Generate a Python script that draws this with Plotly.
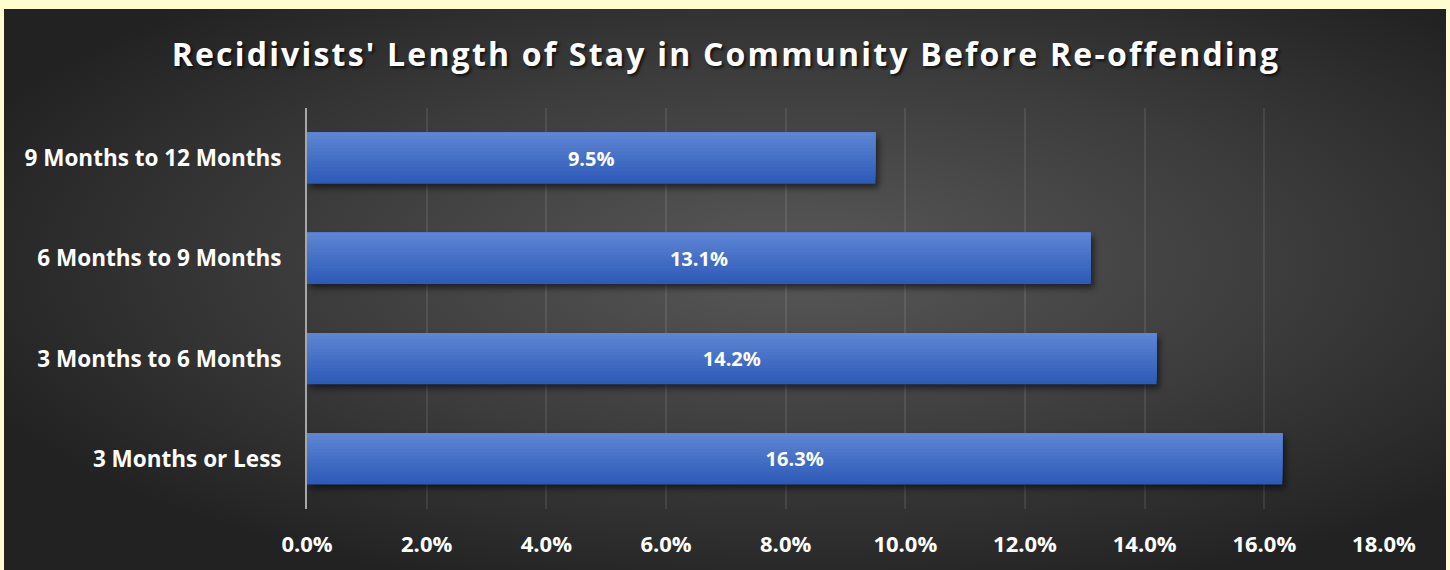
import base64
import plotly.graph_objects as go

categories = ["3 Months or Less", "3 Months to 6 Months", "6 Months to 9 Months", "9 Months to 12 Months"]
values = [16.3, 14.2, 13.1, 9.5]
value_labels = ["16.3%", "14.2%", "13.1%", "9.5%"]
x_ticks = [0, 2, 4, 6, 8, 10, 12, 14, 16, 18]
x_tick_labels = ["0.0%", "2.0%", "4.0%", "6.0%", "8.0%", "10.0%", "12.0%", "14.0%", "16.0%", "18.0%"]
title_text = "Recidivists' Length of Stay in Community Before Re-offending"

W, H = 1450, 570
L, R, T, B = 307, 66, 108, 61
pw, ph = W - L - R, H - T - B
FONT = "Open Sans"

svg = (
    '<svg xmlns="http://www.w3.org/2000/svg" width="1442" height="561" viewBox="0 0 1442 561" preserveAspectRatio="none">'
    '<defs><radialGradient id="g" cx="0.55" cy="0.45" r="0.62">'
    '<stop offset="0" stop-color="#585858"/><stop offset="0.55" stop-color="#3c3c3c"/>'
    '<stop offset="1" stop-color="#222222"/></radialGradient></defs>'
    '<rect width="1442" height="561" fill="url(#g)"/></svg>'
)
bg_src = "data:image/svg+xml;base64," + base64.b64encode(svg.encode()).decode()

# vertical gradient on bars: nested overlay bars, each starting higher and lighter
BAR_W = 0.51
N = 16
top_rgb = (0x5e, 0x84, 0xd3)
bot_rgb = (0x2d, 0x5b, 0xb8)

fig = go.Figure()
for i in range(N):
    t = i / (N - 1)
    c = tuple(round(bot_rgb[k] + (top_rgb[k] - bot_rgb[k]) * t) for k in range(3))
    fig.add_trace(go.Bar(
        y=categories, x=values, orientation="h",
        width=BAR_W - i * BAR_W / N, offset=-BAR_W / 2 + i * BAR_W / N,
        marker=dict(color="rgb(%d,%d,%d)" % c, line=dict(width=0)),
        hoverinfo="skip",
    ))

fig.add_trace(go.Bar(
    y=categories, x=values, orientation="h",
    width=BAR_W, offset=-BAR_W / 2,
    text=value_labels, textposition="inside", insidetextanchor="middle",
    textfont=dict(family=FONT, size=20, color="white", weight="bold"),
    marker=dict(color="rgba(0,0,0,0)", line=dict(width=0)),
    hoverinfo="skip",
))

fig.update_layout(
    width=W, height=H,
    margin=dict(l=L, r=R, t=T, b=B, pad=0),
    paper_bgcolor="#fffdd0",
    plot_bgcolor="rgba(0,0,0,0)",
    barmode="overlay",
    showlegend=False,
    title=dict(
        text=title_text, x=726 / W, xref="container", xanchor="center",
        y=1 - 55 / H, yref="container", yanchor="middle",
        font=dict(family=FONT, size=32, color="white", weight="bold",
                  shadow="2px 2px 3px rgba(0,0,0,0.7)"),
    ),
    images=[dict(
        source=bg_src, xref="paper", yref="paper",
        x=(4 - L) / pw, y=(H - B - 9) / ph,
        sizex=1442 / pw, sizey=561 / ph,
        xanchor="left", yanchor="top", sizing="stretch", layer="below",
    )],
    xaxis=dict(
        range=[0, 18], tickvals=x_ticks, ticktext=x_tick_labels,
        showgrid=True, gridcolor="rgba(255,255,255,0.09)", gridwidth=2,
        zeroline=False, showline=False, ticks="",
        tickfont=dict(family=FONT, size=22, color="white", weight="bold"),
        ticklabelstandoff=20, fixedrange=True,
    ),
    yaxis=dict(
        showgrid=False, zeroline=False,
        showline=True, linecolor="#a6a6a6", linewidth=2,
        ticks="", tickfont=dict(family=FONT, size=22.5, color="white", weight="bold"),
        ticklabelstandoff=19, fixedrange=True,
    ),
)

post = """
var s = document.createElement('style');
s.textContent = '.gtitle { letter-spacing: 2.2px; } '
  + '.barlayer .trace:first-child .point path { filter: drop-shadow(3px 4px 3px rgba(0,0,0,0.55)); }';
document.head.appendChild(s);
"""
fig.write_html("out.html", config={"displayModeBar": False}, post_script=post)
